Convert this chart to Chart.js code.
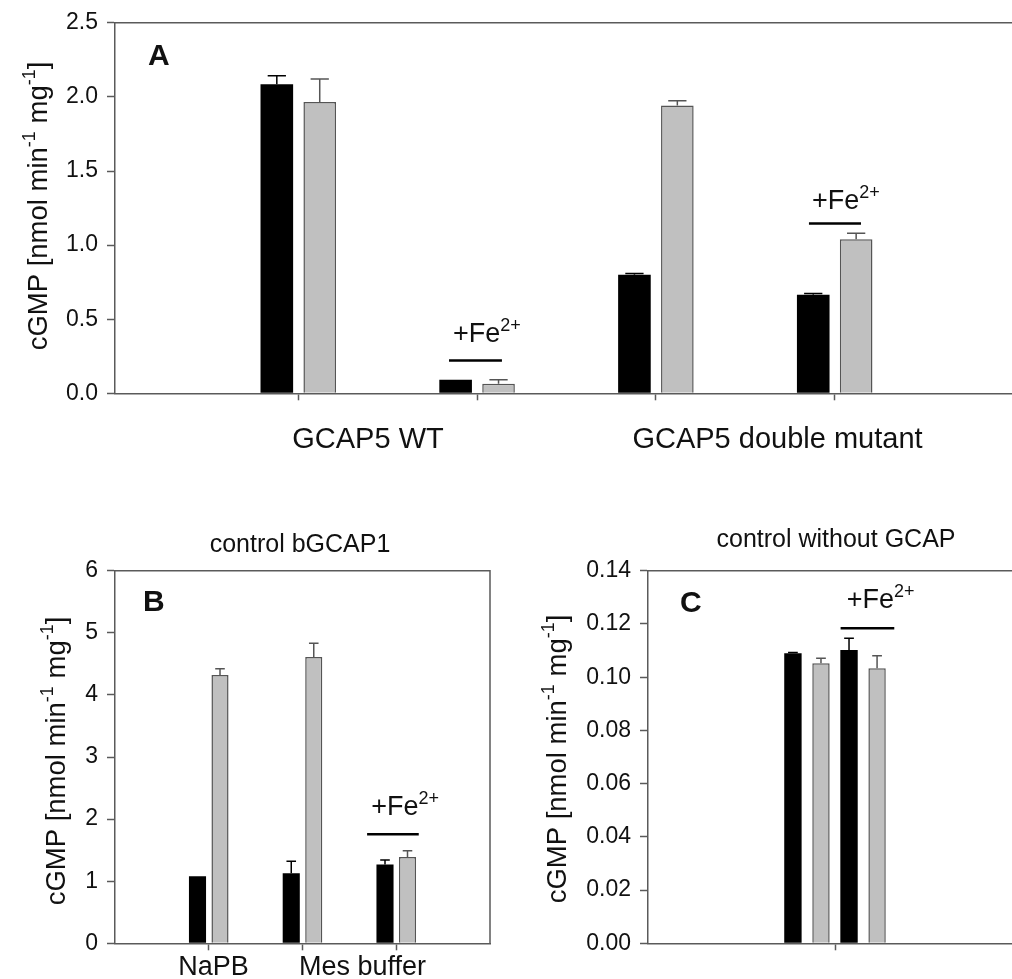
<!DOCTYPE html>
<html>
<head>
<meta charset="utf-8">
<script src="https://cdn.jsdelivr.net/npm/chart.js@4.4.1/dist/chart.umd.min.js"></script>
<style>
  html, body { margin: 0; padding: 0; background: #fff; }
  #fig { position: relative; width: 1012px; height: 979px; overflow: hidden; background: #fff; }
  #fig canvas { position: absolute; }
</style>
</head>
<body>
<div id="fig">
  <canvas id="chartA" width="1040" height="470" style="left:0;top:0"></canvas>
  <canvas id="chartB" width="520" height="479" style="left:0;top:500px"></canvas>
  <canvas id="chartC" width="520" height="479" style="left:520px;top:500px"></canvas>
</div>
<script>
const FONT = '"Liberation Sans", Arial, Helvetica, sans-serif';
const AXIS = '#5a5a5a';
const INK = '#111';
const BLACK = '#000';
const GRAY = '#c0c0c0';
const GRAY_EDGE = '#555';

// Panel A - GCAP5 WT / double mutant (black = first bar, gray = second bar)
const aX = [1, 2, 3, 4];
const aBlack = [2.085, 0.092, 0.800, 0.665];
const aBlackErr = [0.058, 0, 0.008, 0.009];
const aGray = [1.965, 0.065, 1.942, 1.040];
const aGrayErr = [0.156, 0.027, 0.032, 0.040];
const aGroupLabels = ['GCAP5 WT', 'GCAP5 double mutant'];
const aGroupAt = [1.39, 3.68];
const aYTicks = [0, 0.5, 1.0, 1.5, 2.0, 2.5];

// Panel B - control bGCAP1
const bX = [1, 2, 3];
const bBlack = [1.08, 1.13, 1.27];
const bBlackErr = [0, 0.19, 0.07];
const bGray = [4.32, 4.61, 1.39];
const bGrayErr = [0.10, 0.22, 0.10];
const bGroupLabels = ['NaPB', 'Mes buffer'];
const bGroupAt = [1.05, 2.64];
const bYTicks = [0, 1, 2, 3, 4, 5, 6];

// Panel C - control without GCAP (four bars in one group)
const cX = [1];
const cBars = [0.1090, 0.1052, 0.1102, 0.1033];
const cBarsErr = [0.0003, 0.0019, 0.0044, 0.0047];
const cYTicks = [0, 0.02, 0.04, 0.06, 0.08, 0.10, 0.12, 0.14];

// "+Fe2+" marks, in axis units: line from x0 to x1 at y, text starting at tx with baseline ty
const aFe = [[1.843, 2.139, 0.222, 1.865, 0.344], [3.856, 4.147, 1.146, 3.873, 1.244]];
const bFe = [[2.689, 3.240, 1.755, 2.732, 2.066]];
const cFe = [[1.030, 1.317, 0.1184, 1.063, 0.1259]];

const yTitle = [['cGMP [nmol min'], ['-1', true], [' mg'], ['-1', true], [']']];
const feText = [['+Fe'], ['2+', true]];

// draws a run of text pieces, some of them superscript
function drawRich(ctx, parts, x, y, size, supSize, align) {
  const fonts = parts.map(p => (p[1] ? supSize : size) + 'px ' + FONT);
  let w = 0;
  parts.forEach((p, i) => { ctx.font = fonts[i]; w += ctx.measureText(p[0]).width; });
  let cx = align === 'center' ? x - w / 2 : x;
  ctx.textAlign = 'left';
  ctx.textBaseline = 'alphabetic';
  parts.forEach((p, i) => {
    ctx.font = fonts[i];
    ctx.fillText(p[0], cx, p[1] ? y - size * 0.42 : y);
    cx += ctx.measureText(p[0]).width;
  });
}

function overlay(p) {
  return {
    id: 'overlay',
    afterDatasetsDraw(chart) {
      const { ctx, chartArea: a } = chart;
      const xs = chart.scales.x, ys = chart.scales.y;
      ctx.save();

      // top and right frame
      ctx.strokeStyle = AXIS;
      ctx.lineWidth = 1.5;
      ctx.beginPath();
      ctx.moveTo(a.left, a.top);
      ctx.lineTo(a.right, a.top);
      ctx.lineTo(a.right, a.bottom);
      ctx.stroke();

      // error bars (upper half only)
      chart.data.datasets.forEach((ds, i) => {
        chart.getDatasetMeta(i).data.forEach((bar, j) => {
          const e = ds.errors[j];
          if (!e) return;
          const top = ys.getPixelForValue(ds.data[j].y + e);
          const half = bar.width * 0.28;
          ctx.strokeStyle = ds.errColor;
          ctx.lineWidth = 1.5;
          ctx.beginPath();
          ctx.moveTo(bar.x, bar.y);
          ctx.lineTo(bar.x, top);
          ctx.moveTo(bar.x - half, top);
          ctx.lineTo(bar.x + half, top);
          ctx.stroke();
        });
      });

      ctx.fillStyle = INK;
      ctx.strokeStyle = '#000';

      // +Fe2+ marks
      p.fe.forEach(f => {
        const yl = ys.getPixelForValue(f[2]);
        ctx.lineWidth = 2.5;
        ctx.beginPath();
        ctx.moveTo(xs.getPixelForValue(f[0]), yl);
        ctx.lineTo(xs.getPixelForValue(f[1]), yl);
        ctx.stroke();
        drawRich(ctx, feText, xs.getPixelForValue(f[3]), ys.getPixelForValue(f[4]), 27, 18, 'left');
      });

      // group labels under the x axis
      ctx.textAlign = 'center';
      ctx.textBaseline = 'alphabetic';
      ctx.font = p.groupSize + 'px ' + FONT;
      p.groups.forEach((g, i) => ctx.fillText(g, xs.getPixelForValue(p.groupAt[i]), p.groupBaseline));

      // panel title
      if (p.title) {
        ctx.font = '25px ' + FONT;
        ctx.textAlign = 'center';
        ctx.fillText(p.title, p.titlePos[0], p.titlePos[1]);
      }

      // panel letter
      ctx.font = 'bold 30px ' + FONT;
      ctx.textAlign = 'left';
      ctx.fillText(p.letter, p.letterPos[0], p.letterPos[1]);

      // y axis title, rotated, with superscripts
      ctx.save();
      ctx.translate(p.yTitlePos[0] + 9, p.yTitlePos[1]);
      ctx.rotate(-Math.PI / 2);
      drawRich(ctx, yTitle, 0, 0, 27.5, 18, 'center');
      ctx.restore();

      ctx.restore();
    }
  };
}

function buildPanel(id, p) {
  const canvas = document.getElementById(id);
  const datasets = p.series.map(s => ({
    data: p.xs.map((x, j) => ({ x: x, y: s.values[j] })),
    errors: s.errors,
    errColor: s.dark ? BLACK : GRAY_EDGE,
    backgroundColor: s.dark ? BLACK : GRAY,
    borderColor: s.dark ? BLACK : GRAY_EDGE,
    borderWidth: s.dark ? 0 : 1.5,
    categoryPercentage: p.catPct,
    barPercentage: p.barPct
  }));

  return new Chart(canvas.getContext('2d'), {
    type: 'bar',
    data: { datasets },
    options: {
      responsive: false,
      animation: false,
      events: [],
      layout: { padding: { left: 0, top: p.area.top, right: canvas.width - p.area.right, bottom: 0 } },
      plugins: { legend: { display: false }, tooltip: { enabled: false } },
      scales: {
        x: {
          type: 'linear',
          min: p.xMin,
          max: p.xMax,
          offset: false,
          afterBuildTicks: s => { s.ticks = p.xTicks.map(v => ({ value: v })); },
          ticks: { display: false },
          grid: {
            offset: false,
            drawOnChartArea: false,
            tickLength: 7,
            tickWidth: 1.5,
            tickColor: c => (c.tick && c.tick.value > 0 && c.tick.value < p.xTicks[p.xTicks.length - 1]) ? AXIS : 'rgba(0,0,0,0)'
          },
          border: { color: AXIS, width: 1.5 },
          afterFit: s => { s.height = canvas.height - p.area.bottom; }
        },
        y: {
          min: p.yTicks[0],
          max: p.yTicks[p.yTicks.length - 1],
          afterBuildTicks: s => { s.ticks = p.yTicks.map(v => ({ value: v })); },
          ticks: {
            color: INK,
            padding: 9,
            font: { family: FONT, size: 23 },
            callback: v => Number(v).toFixed(p.dec)
          },
          grid: { drawOnChartArea: false, tickLength: 8, tickWidth: 1.5, tickColor: AXIS },
          border: { color: AXIS, width: 1.5 },
          afterFit: s => { s.width = p.area.left; }
        }
      }
    },
    plugins: [overlay(p)]
  });
}

buildPanel('chartA', {
  xs: aX,
  series: [
    { values: aBlack, errors: aBlackErr, dark: true },
    { values: aGray, errors: aGrayErr, dark: false }
  ],
  catPct: 0.48, barPct: 0.76,
  xMin: -0.025, xMax: 5, xTicks: [0, 1, 2, 3, 4, 5],
  yTicks: aYTicks, dec: 1,
  area: { left: 115, top: 21, right: 1013.5, bottom: 393.3 },
  fe: aFe,
  groups: aGroupLabels, groupAt: aGroupAt, groupSize: 29, groupBaseline: 448,
  letter: 'A', letterPos: [148, 65],
  yTitlePos: [38, 206]
});

buildPanel('chartB', {
  xs: bX,
  series: [
    { values: bBlack, errors: bBlackErr, dark: true },
    { values: bGray, errors: bGrayErr, dark: false }
  ],
  catPct: 0.48, barPct: 0.76,
  xMin: 0, xMax: 4, xTicks: [0, 1, 2, 3, 4],
  yTicks: bYTicks, dec: 0,
  area: { left: 115, top: 70.7, right: 490, bottom: 443.3 },
  fe: bFe,
  groups: bGroupLabels, groupAt: bGroupAt, groupSize: 27, groupBaseline: 475,
  title: 'control bGCAP1', titlePos: [300, 52],
  letter: 'B', letterPos: [143, 111],
  yTitlePos: [56, 261]
});

buildPanel('chartC', {
  xs: cX,
  series: cBars.map((v, i) => ({ values: [v], errors: [cBarsErr[i]], dark: i % 2 === 0 })),
  catPct: 0.6, barPct: 0.62,
  xMin: 0, xMax: 2, xTicks: [0, 1, 2],
  yTicks: cYTicks, dec: 2,
  area: { left: 128, top: 70.7, right: 502, bottom: 443.3 },
  fe: cFe,
  groups: [], groupAt: [], groupSize: 27, groupBaseline: 475,
  title: 'control without GCAP', titlePos: [316, 47],
  letter: 'C', letterPos: [160, 112],
  yTitlePos: [37, 259]
});
</script>
</body>
</html>
